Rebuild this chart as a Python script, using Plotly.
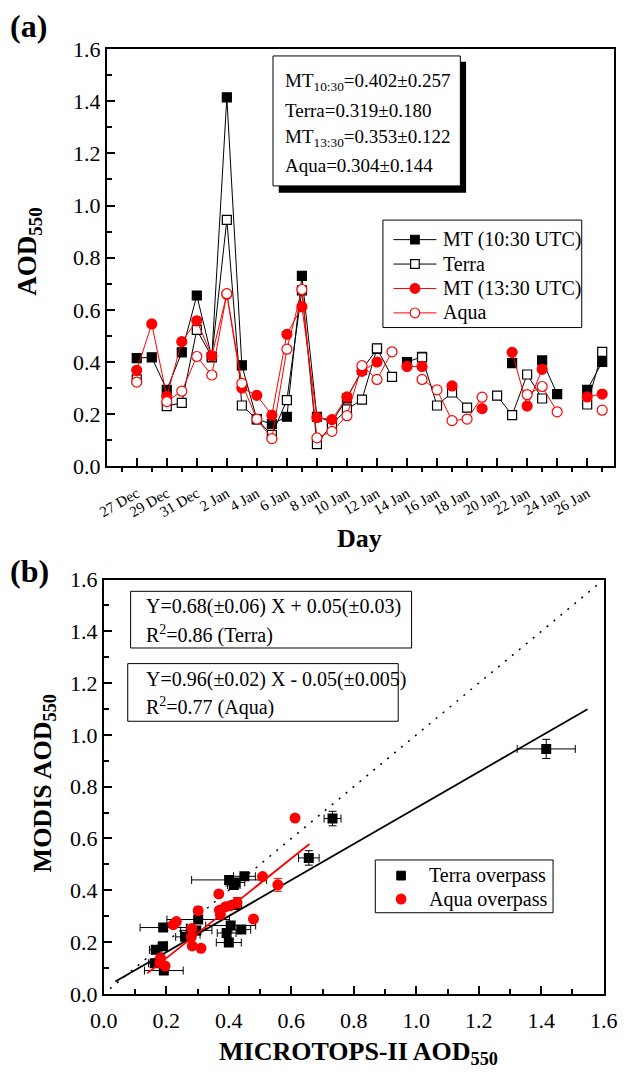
import plotly.graph_objects as go

W, H = 633, 1084
FONT = "Liberation Serif"

# ---------------- panel (a) data ----------------
days = ["27 Dec", "28 Dec", "29 Dec", "30 Dec", "31 Dec", "1 Jan", "2 Jan", "3 Jan",
        "4 Jan", "5 Jan", "6 Jan", "7 Jan", "8 Jan", "9 Jan", "10 Jan", "11 Jan",
        "12 Jan", "13 Jan", "14 Jan", "15 Jan", "16 Jan", "17 Jan", "18 Jan", "19 Jan",
        "20 Jan", "21 Jan", "22 Jan", "23 Jan", "24 Jan", "25 Jan", "26 Jan", "27 Jan"]
mt_1030 = [0.415, 0.418, 0.293, 0.437, 0.655, 0.418, 1.415, 0.387,
           0.18, 0.162, 0.19, 0.73, 0.19, 0.17, 0.26, 0.37,
           0.45, None, 0.40, 0.42, None, None, None, None,
           None, 0.396, None, 0.406, 0.277, None, 0.293, 0.40]
terra = [0.333, None, 0.231, 0.243, 0.523, 0.42, 0.945, 0.233,
         0.181, 0.12, 0.254, 0.675, 0.085, 0.162, 0.218, 0.256,
         0.452, 0.343, None, 0.418, 0.233, 0.283, 0.225, None,
         0.271, 0.196, 0.352, 0.26, None, None, 0.237, 0.439]
mt_1330 = [0.368, 0.546, 0.268, 0.478, 0.558, 0.424, 0.66, 0.30,
           0.272, 0.196, 0.506, 0.612, 0.187, 0.179, 0.266, 0.364,
           0.40, None, 0.383, 0.383, None, 0.308, None, 0.221,
           None, 0.437, 0.231, 0.372, None, None, 0.266, 0.277]
aqua = [0.323, None, 0.248, 0.288, 0.421, 0.35, 0.662, 0.318,
        0.181, 0.106, 0.449, 0.678, 0.109, 0.134, 0.194, 0.386,
        0.333, 0.439, None, 0.333, 0.293, 0.175, 0.181, 0.265,
        None, None, 0.275, 0.306, 0.209, None, None, 0.215]
series_names = ["MT (10:30 UTC)", "Terra", "MT (13:30 UTC)", "Aqua"]
stats_lines = ["MT<sub>10:30</sub>=0.402±0.257", "Terra=0.319±0.180",
               "MT<sub>13:30</sub>=0.353±0.122", "Aqua=0.304±0.144"]

# ---------------- panel (b) data ----------------
terra_x = [1.416, 0.732, 0.656, 0.450, 0.401, 0.416, 0.421, 0.421, 0.302, 0.190, 0.406,
           0.440, 0.393, 0.400, 0.296, 0.260, 0.166, 0.189, 0.163, 0.192, 0.278]
terra_y = [0.946, 0.677, 0.525, 0.454, 0.440, 0.420, 0.430, 0.343, 0.287, 0.256, 0.264,
           0.248, 0.235, 0.198, 0.245, 0.220, 0.170, 0.184, 0.118, 0.090, 0.228]
terra_ex = [0.093, 0.027, 0.033, 0.035, 0.120, 0.020, 0.030, 0.020, 0.100, 0.074, 0.080,
            0.030, 0.030, 0.040, 0.050, 0.030, 0.020, 0.015, 0.020, 0.062, 0.030]
terra_ey = [0.037, 0.028, 0.028, 0.015, 0.012, 0.012, 0.010, 0.010, 0.015, 0.010, 0.015,
            0.010, 0.010, 0.010, 0.010, 0.010, 0.010, 0.010, 0.010, 0.010, 0.010]
aqua_x = [0.612, 0.557, 0.508, 0.368, 0.426, 0.404, 0.389, 0.370, 0.373, 0.302,
          0.479, 0.232, 0.222, 0.282, 0.283, 0.311, 0.280, 0.181, 0.196, 0.180]
aqua_y = [0.679, 0.421, 0.453, 0.386, 0.352, 0.340, 0.336, 0.323, 0.306, 0.321,
          0.289, 0.279, 0.267, 0.252, 0.185, 0.176, 0.220, 0.138, 0.107, 0.120]
aqua_ey = [None, 0.025, None, None, 0.02, None, None, None, None, 0.015,
           None, None, None, None, None, None, None, None, None, None]
scatter_names = ["Terra overpass", "Aqua overpass"]
fit_terra = dict(slope=0.696, intercept=0.022, x=[0.037, 1.548])
fit_aqua = dict(slope=0.963, intercept=-0.055, x=[0.139, 0.658])
one_to_one_x = [0.02, 1.59]
eq_terra = ["Y=0.68(±0.06) X + 0.05(±0.03)", "R<sup>2</sup>=0.86 (Terra)"]
eq_aqua = ["Y=0.96(±0.02) X - 0.05(±0.005)", "R<sup>2</sup>=0.77 (Aqua)"]


def px(x):
    return x / W


def py(y):
    return 1 - y / H


xpos = list(range(len(days)))
fig = go.Figure()

styles = [
    dict(lc="black", sym="square", fill="black", edge="black", size=9),
    dict(lc="black", sym="square", fill="white", edge="black", size=9),
    dict(lc="red", sym="circle", fill="red", edge="red", size=10),
    dict(lc="red", sym="circle", fill="white", edge="red", size=10),
]
for name, vals, st in zip(series_names, [mt_1030, terra, mt_1330, aqua], styles):
    fig.add_trace(go.Scatter(x=xpos, y=vals, mode="lines+markers", name=name,
                             line=dict(color=st["lc"], width=1),
                             marker=dict(symbol=st["sym"], size=st["size"], color=st["fill"],
                                         line=dict(color=st["edge"], width=1.2)),
                             xaxis="x", yaxis="y", showlegend=False))

# ---- panel (b) traces ----
fig.add_trace(go.Scatter(x=one_to_one_x, y=one_to_one_x, mode="lines",
                         line=dict(color="black", width=1.5, dash="2px,7px"), showlegend=False,
                         xaxis="x2", yaxis="y2"))
fig.add_trace(go.Scatter(x=fit_terra["x"],
                         y=[fit_terra["slope"] * v + fit_terra["intercept"] for v in fit_terra["x"]],
                         mode="lines", line=dict(color="black", width=1.8), showlegend=False,
                         xaxis="x2", yaxis="y2"))
fig.add_trace(go.Scatter(x=terra_x, y=terra_y, mode="markers", name=scatter_names[0],
                         marker=dict(symbol="square", size=10, color="black"),
                         error_x=dict(type="data", array=terra_ex, color="black", thickness=1, width=4),
                         error_y=dict(type="data", array=terra_ey, color="black", thickness=1, width=4),
                         xaxis="x2", yaxis="y2", showlegend=False))
fig.add_trace(go.Scatter(x=aqua_x, y=aqua_y, mode="markers", name=scatter_names[1],
                         marker=dict(symbol="circle", size=11, color="red"),
                         error_y=dict(type="data", array=aqua_ey, color="red", thickness=1, width=4),
                         xaxis="x2", yaxis="y2", showlegend=False))
fig.add_trace(go.Scatter(x=fit_aqua["x"],
                         y=[fit_aqua["slope"] * v + fit_aqua["intercept"] for v in fit_aqua["x"]],
                         mode="lines", line=dict(color="red", width=1.8), showlegend=False,
                         xaxis="x2", yaxis="y2"))

axis_font = dict(family=FONT, size=22, color="black")
frame = dict(showline=True, linecolor="black", linewidth=1.8, mirror=True,
             showgrid=False, zeroline=False, tickcolor="black", tickwidth=1.5,
             tickfont=axis_font)
minor_in = dict(dtick=0.1, ticks="inside", ticklen=5, tickcolor="black", tickwidth=1.5)

major_days = xpos[::2]
fig.update_layout(
    width=W, height=H, margin=dict(l=0, r=0, t=0, b=0),
    paper_bgcolor="white", plot_bgcolor="white",
    font=dict(family=FONT, color="black"), showlegend=False,
    xaxis=dict(domain=[px(97), px(628)], anchor="y", range=[-2, 31.8],
               tickmode="array", tickvals=major_days, ticktext=[days[i] for i in major_days],
               ticks="inside", ticklen=8, tickangle=-30, ticklabelstandoff=11,
               minor=dict(tickmode="array", tickvals=[-1] + [i for i in xpos if i % 2 == 1],
                          ticks="outside", ticklen=4, tickcolor="black", tickwidth=1.5),
               **{**frame, "tickfont": dict(family=FONT, size=15, color="black")}),
    yaxis=dict(domain=[py(465), py(38)], anchor="x", range=[0, 1.6], dtick=0.2,
               tickformat=".1f", ticks="inside", ticklen=8, minor=minor_in, **frame),
    xaxis2=dict(domain=[px(94), px(617)], anchor="y2", range=[0, 1.6], dtick=0.2,
                tickformat=".1f", ticks="inside", ticklen=8, ticklabelstandoff=6,
                minor=minor_in, **frame),
    yaxis2=dict(domain=[py(1005), py(581)], anchor="x2", range=[0, 1.6], dtick=0.2,
                tickformat=".1f", ticks="inside", ticklen=8, minor=minor_in, **frame),
)

shapes = []


def rect(x0, y0, x1, y1, fill="white", lc="black", lw=1):
    shapes.append(dict(type="rect", xref="paper", yref="paper", x0=px(x0), x1=px(x1),
                       y0=py(y1), y1=py(y0), fillcolor=fill,
                       line=dict(color=lc, width=lw), layer="above"))


def circ(cx, cy, r, fill, lc, lw=1.2):
    shapes.append(dict(type="circle", xref="paper", yref="paper", x0=px(cx - r), x1=px(cx + r),
                       y0=py(cy + r), y1=py(cy - r), fillcolor=fill,
                       line=dict(color=lc, width=lw), layer="above"))


def hline(x0, x1, y, color, lw=1):
    shapes.append(dict(type="line", xref="paper", yref="paper", x0=px(x0), x1=px(x1),
                       y0=py(y), y1=py(y), line=dict(color=color, width=lw), layer="above"))


# stats box with shadow (panel a)
rect(277, 51, 473, 185, fill="black", lw=0)
rect(271, 45, 467, 178)
# equation boxes (panel b)
rect(122, 593, 416, 651)
rect(119, 667, 402, 726)

ann = []


def txt(x, y, s, size, bold=False, xanchor="left", yanchor="middle", angle=0):
    ann.append(dict(xref="paper", yref="paper", x=px(x), y=py(y), text=("<b>%s</b>" % s) if bold else s,
                    showarrow=False, xanchor=xanchor, yanchor=yanchor, textangle=angle,
                    align="left" if xanchor == "left" else "center",
                    font=dict(family=FONT, size=size, color="black")))


# legend of panel (a)
rect(386, 213, 594, 323)
for i, (name, st) in enumerate(zip(series_names, styles)):
    yy = [233, 258, 283, 308][i]
    hline(397, 442, yy, st["lc"])
    if st["sym"] == "square":
        h = st["size"] / 2
        rect(419.5 - h, yy - h, 419.5 + h, yy + h, fill=st["fill"], lc=st["edge"], lw=1.2)
    else:
        circ(419.5, yy, st["size"] / 2, st["fill"], st["edge"])
    txt(447, yy, name, 20)

# legend of panel (b)
rect(378, 868, 564, 922)
rect(400.5, 879.5, 409.5, 888.5, fill="black", lc="black")
circ(405, 908, 5, "red", "red")
txt(432, 884, scatter_names[0], 20)
txt(432, 908, scatter_names[1], 20)

for i, s in enumerate(stats_lines):
    txt(281, [72, 101, 129, 157][i], s, 19)
for i, s in enumerate(eq_terra):
    txt(136, [609, 637][i], s, 20)
for i, s in enumerate(eq_aqua):
    txt(136, [683, 711][i], s, 20)

txt(-6, 14, "(a)", 32, bold=True)
txt(-6, 572, "(b)", 32, bold=True)
txt(16, 245, "AOD<sub>550</sub>", 27, bold=True, xanchor="center", angle=-90)
txt(362, 539, "Day", 26, bold=True, xanchor="center")
txt(31, 790, "MODIS AOD<sub>550</sub>", 26, bold=True, xanchor="center", angle=-90)
txt(360, 1066, "MICROTOPS-II AOD<sub>550</sub>", 26, bold=True, xanchor="center")
fig.update_layout(annotations=ann, shapes=shapes)

fig.write_html("out.html")
